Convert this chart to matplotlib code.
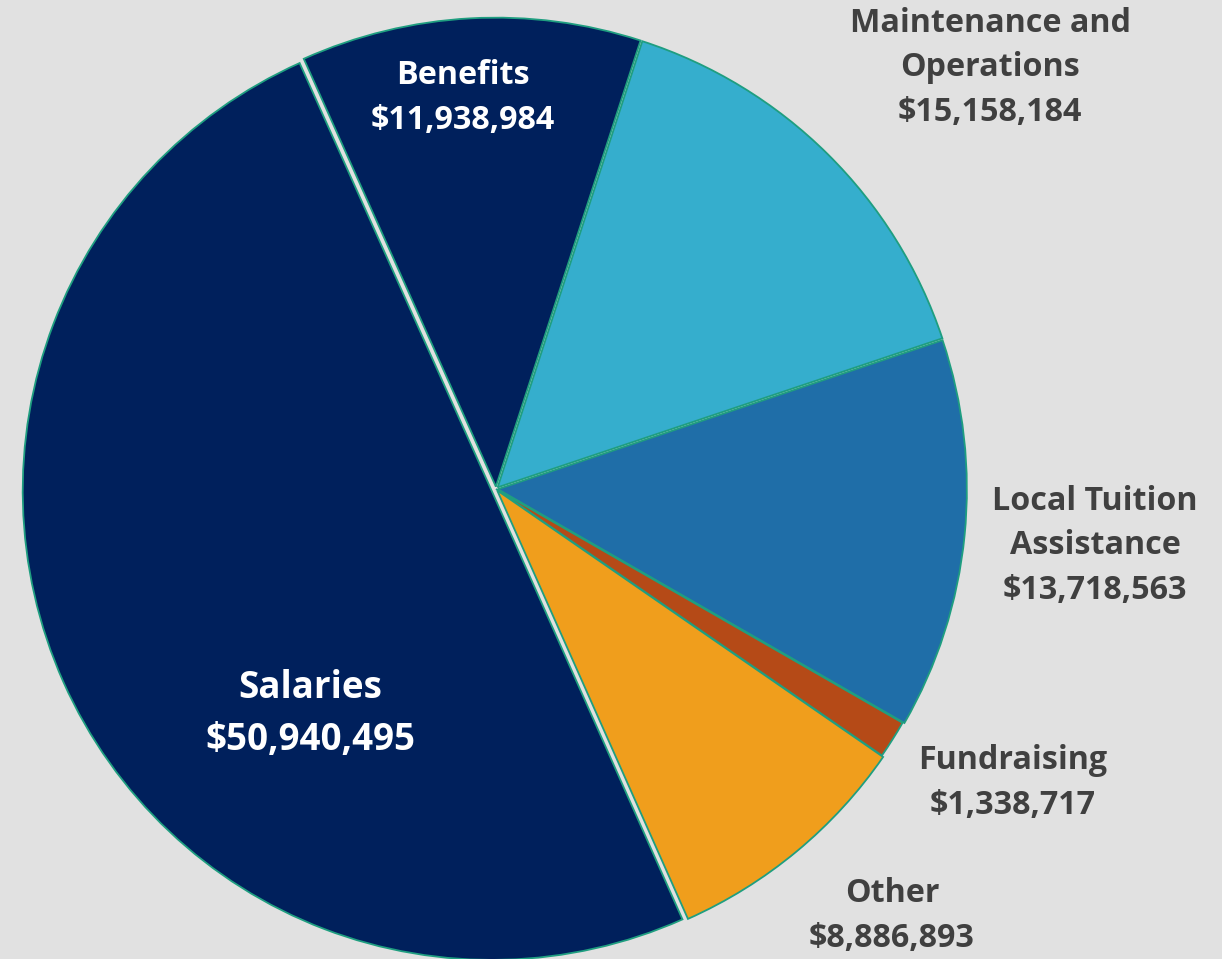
import matplotlib.pyplot as plt

# expense categories, in clockwise order starting from the Salaries slice
categories = ["Salaries", "Benefits", "Maintenance and\nOperations",
              "Local Tuition\nAssistance", "Fundraising", "Other"]
amounts = [50940495, 11938984, 15158184, 13718563, 1338717, 8886893]

colors = ["#00205c", "#00205c", "#35aecd", "#1f6ea8", "#b54a17", "#f09e1c"]
explode = [0.01, 0.005, 0.005, 0.004, 0.0, 0.004]

BG = "#e1e1e1"
EDGE = "#1f9e80"
TEXT = "#404040"

W, H = 1222, 959
CX, CY, R = 496, 489, 469  # pie centre and radius in pixels

fig = plt.figure(figsize=(W / 100, H / 100), dpi=100, facecolor=BG)
ax = fig.add_axes([0, 0, 1, 1])
ax.set_facecolor(BG)

ax.pie(amounts, colors=colors, explode=explode, startangle=-66,
       counterclock=False, radius=1.0,
       wedgeprops=dict(edgecolor=EDGE, linewidth=1.3))

ax.set_xlim(-CX / R, (W - CX) / R)
ax.set_ylim(-(H - CY) / R, CY / R)
ax.set_aspect("equal")
ax.axis("off")

# label anchor points (pixel coordinates of the text block centres)
label_pos = [(310, 714), (463, 98), (990, 68), (1095, 546), (1013, 783), (892, 916)]
label_color = ["white", "white", TEXT, TEXT, TEXT, TEXT]
label_size = [26.5, 23.2, 23.2, 23.2, 23.2, 23.2]

for name, amt, (px, py), col, fs in zip(categories, amounts, label_pos, label_color, label_size):
  ax.text(px / W, 1 - py / H, f"{name}\n${amt:,}", transform=ax.transAxes,
          ha="center", va="center", color=col, fontsize=fs,
          fontweight="bold", family="Open Sans", linespacing=1.45)

fig.savefig("out.png", dpi=100, facecolor=BG)
